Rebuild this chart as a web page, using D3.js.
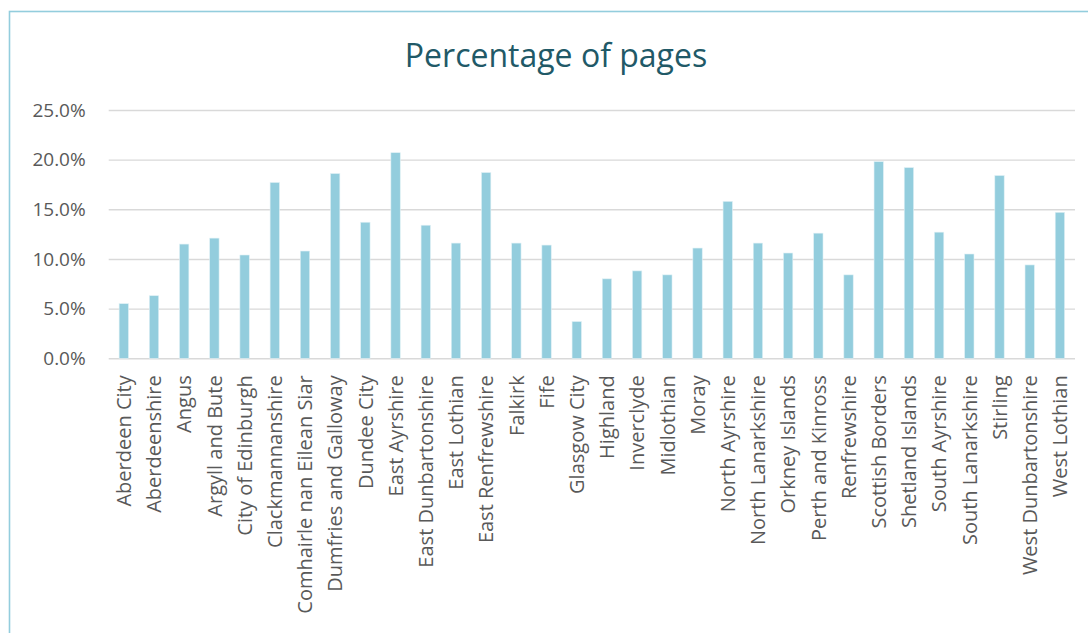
<!DOCTYPE html>
<html>
<head>
<meta charset="utf-8">
<script src="https://cdn.jsdelivr.net/npm/d3@7"></script>
<style>
  html, body { margin: 0; padding: 0; background: #fff; }
  svg { display: block; }
  text { font-family: "Open Sans", sans-serif; }
</style>
</head>
<body>
<div id="chart"></div>
<script>
// Share of pages per council area
const councils = [
  "Aberdeen City", "Aberdeenshire", "Angus", "Argyll and Bute", "City of Edinburgh",
  "Clackmannanshire", "Comhairle nan Eilean Siar", "Dumfries and Galloway", "Dundee City",
  "East Ayrshire", "East Dunbartonshire", "East Lothian", "East Renfrewshire", "Falkirk",
  "Fife", "Glasgow City", "Highland", "Inverclyde", "Midlothian", "Moray", "North Ayrshire",
  "North Lanarkshire", "Orkney Islands", "Perth and Kinross", "Renfrewshire",
  "Scottish Borders", "Shetland Islands", "South Ayrshire", "South Lanarkshire", "Stirling",
  "West Dunbartonshire", "West Lothian"
];
const pagePercent = [
  5.5, 6.3, 11.5, 12.1, 10.4,
  17.7, 10.8, 18.6, 13.7,
  20.7, 13.4, 11.6, 18.7, 11.6,
  11.4, 3.7, 8.0, 8.8, 8.4, 11.1, 15.8,
  11.6, 10.6, 12.6, 8.4,
  19.8, 19.2, 12.7, 10.5, 18.4,
  9.4, 14.7
];
const yTicks = [0, 5, 10, 15, 20, 25];
const chartTitle = "Percentage of pages";

const W = 1088, H = 633;
const plot = { left: 108.7, right: 1075, top: 110, bottom: 358.3 };

const svg = d3.select("#chart").append("svg")
  .attr("width", W).attr("height", H);

// outer frame
svg.append("rect")
  .attr("x", 9.5).attr("y", 11.5)
  .attr("width", 1100).attr("height", 700)
  .attr("fill", "none")
  .attr("stroke", "#93cddd")
  .attr("stroke-width", 1.6);

svg.append("text")
  .attr("x", 556).attr("y", 67)
  .attr("text-anchor", "middle")
  .attr("fill", "#215967")
  .attr("font-size", 32)
  .text(chartTitle);

const x = d3.scaleBand()
  .domain(councils)
  .range([plot.left, plot.right])
  .paddingInner(0.69)
  .paddingOuter(0.345);

const y = d3.scaleLinear()
  .domain([0, 25])
  .range([plot.bottom, plot.top]);

// horizontal gridlines + value labels
const yAxis = d3.axisLeft(y)
  .tickValues(yTicks)
  .tickSize(-(plot.right - plot.left))
  .tickPadding(23)
  .tickFormat(d => d.toFixed(1) + "%");

const gy = svg.append("g")
  .attr("transform", `translate(${plot.left},0)`)
  .call(yAxis);
gy.select(".domain").remove();
gy.selectAll(".tick line")
  .attr("stroke", "#d9d9d9")
  .attr("stroke-width", 1.4);
gy.selectAll(".tick text")
  .attr("fill", "#595959")
  .attr("font-size", 19)
  .attr("font-family", "Open Sans, sans-serif");

// bars
svg.append("g").selectAll("rect")
  .data(pagePercent)
  .join("rect")
  .attr("x", (d, i) => x(councils[i]))
  .attr("y", d => y(d))
  .attr("width", x.bandwidth())
  .attr("height", d => y(0) - y(d))
  .attr("fill", "#93cddd")
  .attr("stroke", "#dff0f5")
  .attr("stroke-width", 0.6);

// category axis
const xAxis = d3.axisBottom(x).tickSize(0).tickPadding(0);
const gx = svg.append("g")
  .attr("transform", `translate(0,${plot.bottom})`)
  .call(xAxis);
gx.select(".domain").remove();
gx.selectAll(".tick text")
  .attr("fill", "#595959")
  .attr("font-size", 20)
  .attr("font-family", "Open Sans, sans-serif")
  .attr("text-anchor", "end")
  .attr("transform", "rotate(-90)")
  .attr("x", -17)
  .attr("y", 0)
  .attr("dy", "0.36em");
</script>
</body>
</html>
